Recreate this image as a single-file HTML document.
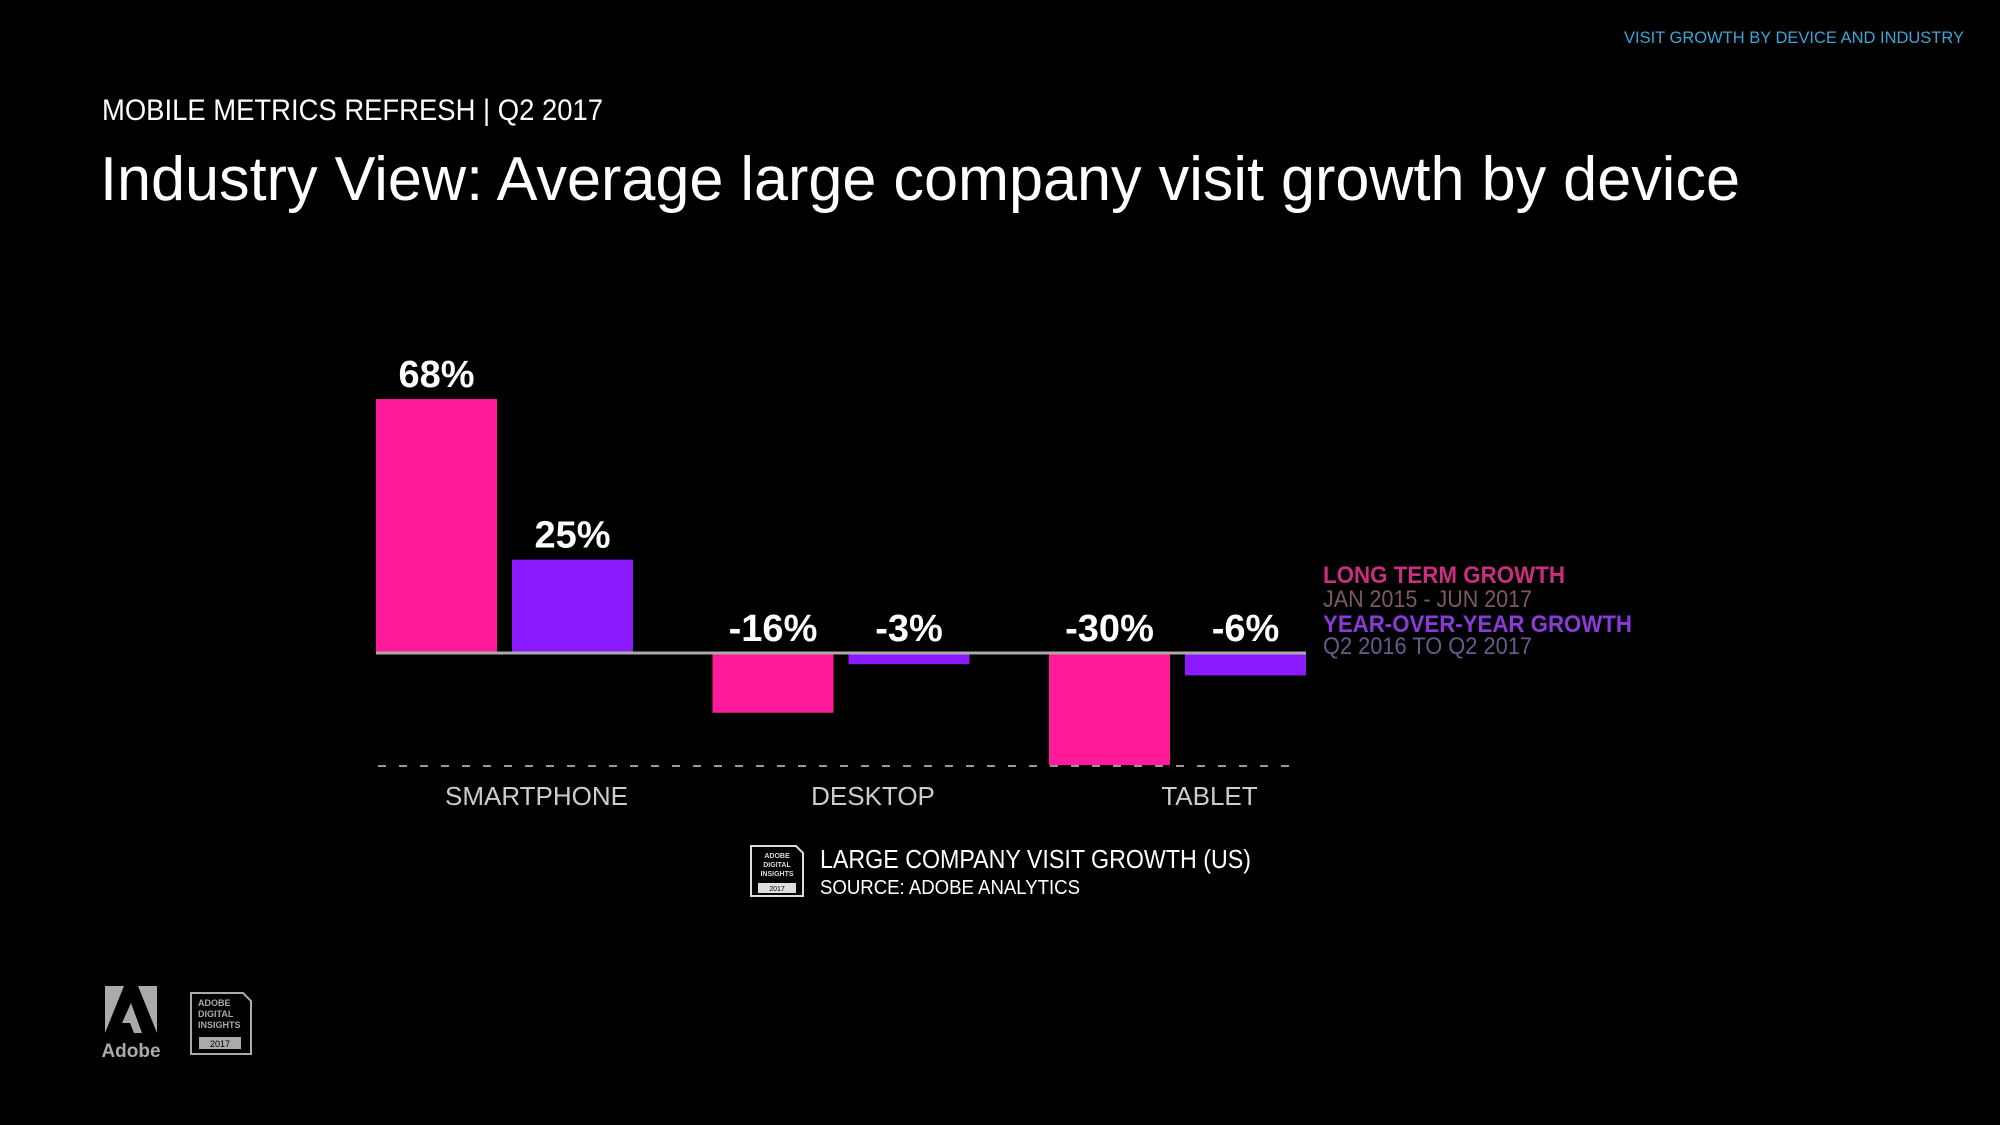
<!DOCTYPE html>
<html><head><meta charset="utf-8"><style>
html,body{margin:0;padding:0;background:#000;}
svg{display:block;font-family:"Liberation Sans",sans-serif;}
</style></head><body>
<svg id="chart" width="2000" height="1125" viewBox="0 0 2000 1125">
<rect width="2000" height="1125" fill="#000"/>
<text x="1964" y="43" text-anchor="end" font-size="17" fill="#3aa6d8" textLength="340" lengthAdjust="spacingAndGlyphs">VISIT GROWTH BY DEVICE AND INDUSTRY</text>
<text x="102" y="120" font-size="30" fill="#fff" textLength="501" lengthAdjust="spacingAndGlyphs">MOBILE METRICS REFRESH | Q2 2017</text>
<text x="100" y="200" font-size="62" fill="#fff" textLength="1640" lengthAdjust="spacingAndGlyphs">Industry View: Average large company visit growth by device</text>
<g id="plot"></g>
<g>
<text x="1323" y="583" font-size="24" font-weight="bold" fill="#c8307f" textLength="242" lengthAdjust="spacingAndGlyphs">LONG TERM GROWTH</text>
<text x="1323" y="607" font-size="24" fill="#7a5a6a" textLength="209" lengthAdjust="spacingAndGlyphs">JAN 2015 - JUN 2017</text>
<text x="1323" y="632" font-size="24" font-weight="bold" fill="#8a3ad8" textLength="309" lengthAdjust="spacingAndGlyphs">YEAR-OVER-YEAR GROWTH</text>
<text x="1323" y="654" font-size="24" fill="#6a5a8a" textLength="209" lengthAdjust="spacingAndGlyphs">Q2 2016 TO Q2 2017</text>
</g>
<g>
<path d="M751 846 H796 L803 853 V896 H751 Z" fill="none" stroke="#ddd" stroke-width="2"/>
<text x="777" y="858" font-size="7" font-weight="bold" fill="#ddd" text-anchor="middle">ADOBE</text>
<text x="777" y="867" font-size="7" font-weight="bold" fill="#ddd" text-anchor="middle">DIGITAL</text>
<text x="777" y="876" font-size="7" font-weight="bold" fill="#ddd" text-anchor="middle">INSIGHTS</text>
<rect x="758" y="883" width="38" height="10" fill="#ddd"/>
<text x="777" y="891" font-size="7" fill="#000" text-anchor="middle">2017</text>
<text x="820" y="868" font-size="26" fill="#fff" textLength="431" lengthAdjust="spacingAndGlyphs">LARGE COMPANY VISIT GROWTH (US)</text>
<text x="820" y="894" font-size="20" fill="#fff" textLength="260" lengthAdjust="spacingAndGlyphs">SOURCE: ADOBE ANALYTICS</text>
</g>
<g>
<polygon points="105,986 124,986 105,1033" fill="#aaa"/>
<polygon points="138,986 157,986 157,1033" fill="#aaa"/>
<polygon points="131,1003 142,1033 134,1033 130,1023 122,1023" fill="#aaa"/>
<text x="131" y="1057" font-size="19" font-weight="bold" fill="#aaa" text-anchor="middle">Adobe</text>
</g>
<g>
<path d="M191 993 H243 L251 1001 V1054 H191 Z" fill="none" stroke="#aaa" stroke-width="2"/>
<text x="198" y="1006" font-size="9" font-weight="bold" fill="#aaa">ADOBE</text>
<text x="198" y="1017" font-size="9" font-weight="bold" fill="#aaa">DIGITAL</text>
<text x="198" y="1028" font-size="9" font-weight="bold" fill="#aaa">INSIGHTS</text>
<rect x="199" y="1037" width="42" height="12" fill="#aaa"/>
<text x="220" y="1047" font-size="9" fill="#000" text-anchor="middle">2017</text>
</g>
</svg>
<script>
const categories = ["SMARTPHONE","DESKTOP","TABLET"];
const longTerm = [68,-16,-30];
const yoy = [25,-3,-6];
const valueLabels1 = ["68%","-16%","-30%"];
const valueLabels2 = ["25%","-3%","-6%"];
const NS="http://www.w3.org/2000/svg";
const plot=document.getElementById('plot');
const baseY=653, pxPer=3.735, x0=376, groupW=336.5, barW=121, gap=15;
function yScale(v){return baseY - v*pxPer;}
function xGroup(i){return x0 + i*groupW;}
function mk(tag,attrs){const e=document.createElementNS(NS,tag);for(const k in attrs)e.setAttribute(k,attrs[k]);plot.appendChild(e);return e;}
const series=[{vals:longTerm,labels:valueLabels1,color:"#ff1a99",off:0,nm:"long-term"},{vals:yoy,labels:valueLabels2,color:"#8c1aff",off:barW+gap,nm:"yoy"}];
series.forEach(s=>{
  s.vals.forEach((v,i)=>{
    const x=xGroup(i)+s.off;
    const y1=Math.min(yScale(v),baseY), y2=Math.max(yScale(v),baseY);
    const r=mk('rect',{x:x,y:y1,width:barW,height:y2-y1,fill:s.color});
    
    
    const ly = v>=0 ? yScale(v)-12 : baseY-12;
    const t=mk('text',{x:x+barW/2,y:ly,'text-anchor':'middle','font-size':38,'font-weight':'bold',fill:'#fff'});
    t.textContent=s.labels[i];
    
    
  });
});
const ax=mk('line',{x1:x0,x2:xGroup(2)+2*barW+gap,y1:baseY,y2:baseY,stroke:'#aaa','stroke-width':3});


const minV=Math.min(...longTerm,...yoy);
const dl=mk('line',{x1:378,x2:1296,y1:yScale(minV)+1,y2:yScale(minV)+1,stroke:'#999','stroke-width':2,'stroke-dasharray':'8 13'});


categories.forEach((c,i)=>{
  const t=mk('text',{x:xGroup(i)+barW+gap/2+32,y:805,'text-anchor':'middle','font-size':26,fill:'#ccc'});
  t.textContent=c;
  
  
});
</script>
</body></html>
